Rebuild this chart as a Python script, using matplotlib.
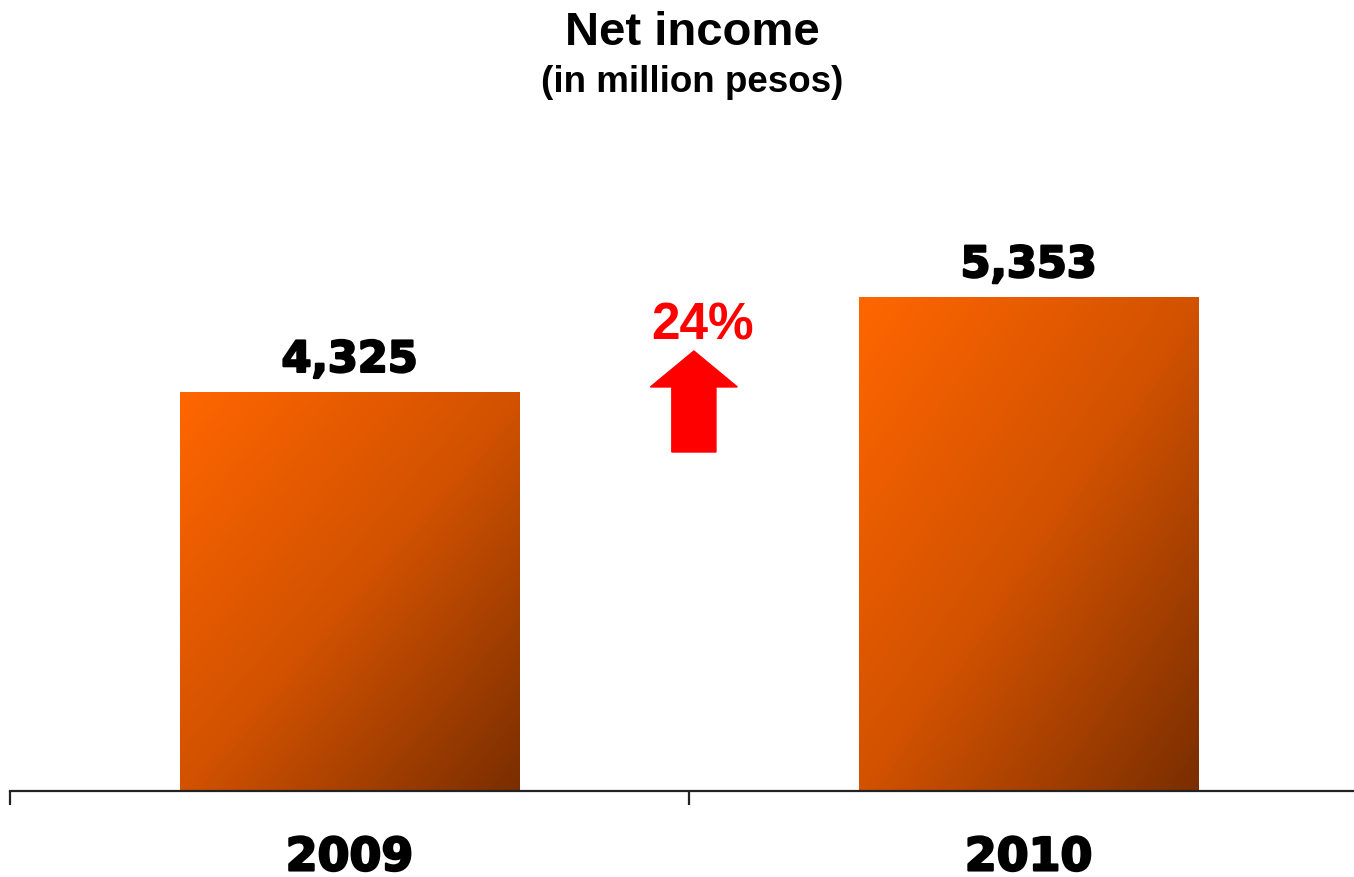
import matplotlib
matplotlib.use("Agg")
import matplotlib.pyplot as plt
import matplotlib.patheffects as pe
import numpy as np
from matplotlib.colors import LinearSegmentedColormap
from matplotlib.patches import FancyArrow

years = ["2009", "2010"]
net_income = [4325, 5353]

growth = round((net_income[1] / net_income[0] - 1) * 100)

fig = plt.figure(figsize=(13.54, 8.77), dpi=100)
ax = fig.add_axes([10 / 1354, 86 / 877, 1 - 10 / 1354, 1 - 86 / 877])

x = np.arange(len(years))
width = 0.5
heavy = [pe.withStroke(linewidth=1.6, foreground="black")]

# orange -> brown diagonal gradient on each bar
cmap = LinearSegmentedColormap.from_list(
    "bar", [(0, "#ff6600"), (0.5, "#d25200"), (1, "#7a2e00")])
u, v = np.meshgrid(np.linspace(0, 1, 200), np.linspace(0, 1, 200))
grad = (u + v) / 2

bars = ax.bar(x, net_income, width, color="none", edgecolor="none")
for b in bars:
    x0, y0 = b.get_x(), b.get_y()
    w, h = b.get_width(), b.get_height()
    ax.imshow(grad, cmap=cmap, vmin=0, vmax=1, origin="upper",
              extent=[x0, x0 + w, y0, y0 + h], aspect="auto", zorder=2)
    ax.annotate(f"{h:,.0f}", (x0 + w / 2, h), xytext=(0, 14.5),
                textcoords="offset points", ha="center", va="baseline",
                fontsize=31, fontweight="bold", family="DejaVu Sans",
                path_effects=heavy)

# growth arrow between the bars
ax.add_patch(FancyArrow(0.507, 3675, 0, 1095, width=0.065, head_width=0.128,
                        head_length=390, length_includes_head=True,
                        color="#ff0000", zorder=3))
ax.text(0.52, 4900, f"{growth}%", ha="center", va="baseline", color="#ff0000",
        fontsize=37, fontweight="bold", family="Liberation Sans")

for s in ["top", "right", "left"]:
    ax.spines[s].set_visible(False)
ax.spines["bottom"].set_linewidth(1.6)
ax.spines["bottom"].set_color("#222222")
ax.set_yticks([])
ax.set_xticks(x)
ax.set_xticklabels(years, fontsize=33, fontweight="bold", family="DejaVu Sans")
for lbl in ax.get_xticklabels():
    lbl.set_path_effects(heavy)
ax.tick_params(axis="x", which="major", length=0, pad=32)
ax.set_xticks([-0.5, 0.5, 1.5], minor=True)
ax.tick_params(axis="x", which="minor", length=10, width=1.6, color="#222222")
ax.set_xlim(-0.5, 1.479)
ax.set_ylim(0, 8575)

fig.text(0.511, 1 - 33 / 877, "Net income", ha="center", va="center",
         fontsize=34, fontweight="bold", family="Liberation Sans")
fig.text(0.511, 1 - 82 / 877, "(in million pesos)", ha="center", va="center",
         fontsize=26.5, fontweight="bold", family="Liberation Sans")

fig.savefig("out.png", dpi=100)
